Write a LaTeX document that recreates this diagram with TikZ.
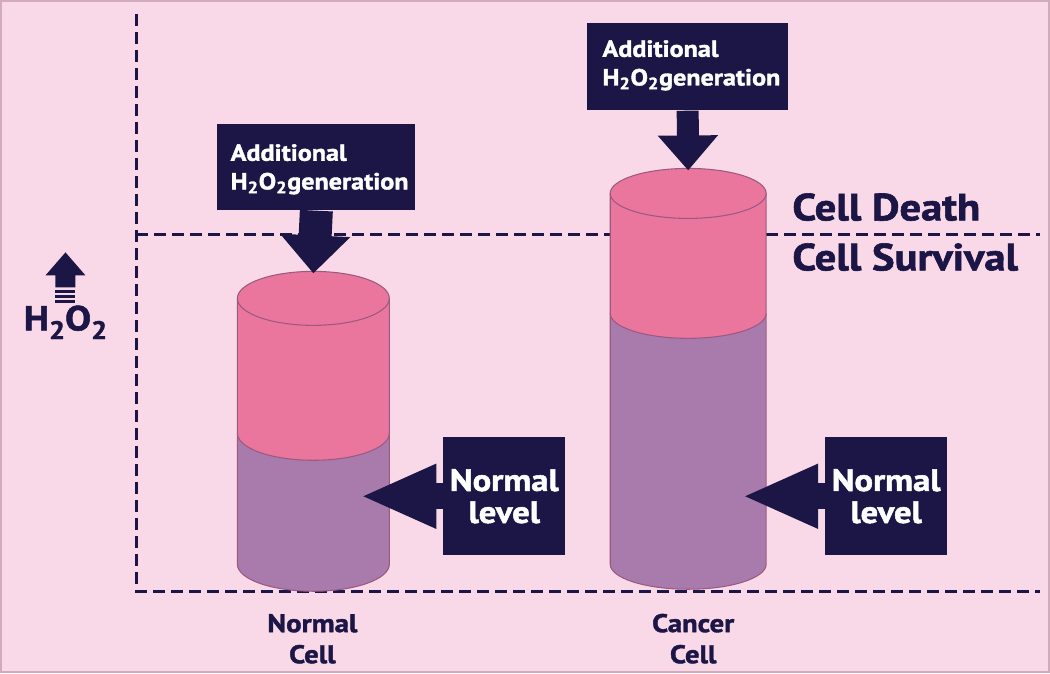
\documentclass[tikz,border=0pt]{standalone}
\usepackage{fontspec}
\setmainfont{PT Sans}[FakeStretch=1.12,BoldFeatures={FakeBold=1.6}]
\usetikzlibrary{arrows.meta,calc}
\definecolor{bg}{HTML}{F9D9E7}
\definecolor{navy}{HTML}{1C1646}
\definecolor{cpink}{HTML}{EA769E}
\definecolor{cpurp}{HTML}{A97BAC}
\definecolor{cedge}{HTML}{9A5A80}
\definecolor{framec}{HTML}{D2AABD}
\newcommand{\hoo}{H\textsubscript{2}O\textsubscript{2}}
\newcommand{\mycyl}[6]{%
  \fill[cpurp] (#1-#2,#4) rectangle (#1+#2,#5);
  \fill[cpurp] (#1,#5) ellipse[x radius=#2,y radius=#6];
  \fill[cpink] (#1-#2,#3) rectangle (#1+#2,#4);
  \fill[cpink] (#1,#4) ellipse[x radius=#2,y radius=#6];
  \draw[cyledge] (#1-#2,#3) -- (#1-#2,#5) arc[start angle=180,end angle=0,x radius=#2,y radius=#6] -- (#1+#2,#3);
  \draw[cyledge] (#1-#2,#4) arc[start angle=180,end angle=0,x radius=#2,y radius=#6];
  \draw[cyledge,fill=cpink] (#1,#3) ellipse[x radius=#2,y radius=#6];
}
\begin{document}
\begin{tikzpicture}[x=0.75pt,y=-0.75pt,
  cyledge/.style={draw=cedge,line width=0.8pt},
  axis/.style={navy,line width=2.3pt,dash pattern=on 9pt off 4.5pt},
  darkbox/.style={fill=navy,text=white,font=\bfseries,inner sep=0pt},
  addtext/.style={text=white,font=\fontsize{17.5}{21.5}\selectfont\bfseries,align=left,anchor=base west,inner sep=0pt},
  darrow/.style={navy,line width=#1*0.75pt},
  biglabel/.style={text=navy,font=\fontsize{28.5}{32}\selectfont\bfseries,anchor=base west,inner sep=0pt},
  celllabel/.style={text=navy,font=\fontsize{19.2}{23.3}\selectfont\bfseries,align=center,inner sep=0pt,anchor=base},
  leveltext/.style={align=center,font=\fontsize{23.2}{24}\selectfont\bfseries}
]
\fill[bg] (0,0) rectangle (1050,673);
\draw[framec,line width=1.5pt] (0.5,0.5) rectangle (1049,671.5);
\useasboundingbox (0,0) rectangle (1050,673);

% axes
\coordinate (ytop) at (136,14);
\coordinate (origin) at (136,591);
\coordinate (xend) at (1040,591);
\coordinate (thl) at (136,234);
\coordinate (thr) at (1040,234);
\draw[axis] (ytop) -- (origin) -- (xend);
\draw[axis] (thl) -- (thr);

% cylinders
\mycyl{313}{76}{298}{433}{564}{27}
\mycyl{688}{78}{193}{313}{564}{25}
\coordinate (ncTop) at (313,273);
\coordinate (ccTop) at (688,170);
\coordinate (ncSide) at (360,496);
\coordinate (ccSide) at (742,496);

% additional boxes
\node[darkbox,minimum width=198*0.75pt,minimum height=86*0.75pt] (addN) at (316,167) {};
\node[addtext] (addNt) at (230,189) {Additional\\\hoo generation};
\node[darkbox,minimum width=201*0.75pt,minimum height=87*0.75pt] (addC) at (687.5,66.5) {};
\node[addtext] (addCt) at (602,85) {Additional\\\hoo generation};
\draw[darrow=33,-{Triangle[length=38*0.75pt,width=68*0.75pt]}] (addN.south) -- (ncTop);
\draw[darrow=22,-{Triangle[length=35*0.75pt,width=58*0.75pt]}] (addC.south) -- (ccTop);

% normal level boxes
\node[darkbox,leveltext,minimum width=122*0.75pt,minimum height=118*0.75pt] (nlN) at (504,496) {Normal\\level};
\node[darkbox,leveltext,minimum width=122*0.75pt,minimum height=118*0.75pt] (nlC) at (886,496) {Normal\\level};
\draw[darrow=26,-{Triangle[length=76*0.75pt,width=59*0.75pt]}] (nlN.west) -- (ncSide);
\draw[darrow=26,-{Triangle[length=76*0.75pt,width=59*0.75pt]}] (nlC.west) -- (ccSide);

% threshold labels
\node[biglabel] (death) at (792,220) {Cell Death};
\node[biglabel] (surv) at (792,270) {Cell Survival};

% cell labels
\node[celllabel] (ncell) at (312,663) {Normal\\Cell};
\node[celllabel] (ccell) at (693,663) {Cancer\\Cell};

% y axis label
\node[text=navy,font=\fontsize{26}{28}\selectfont\bfseries,anchor=base west,inner sep=0pt] (hlab) at (23,330) {H\raisebox{-0.5ex}{\fontsize{19}{19}\selectfont 2}O\raisebox{-0.5ex}{\fontsize{19}{19}\selectfont 2}};
\fill[navy] (45,275) -- (65,252) -- (85,275) -- (75,275) -- (75,287) -- (55,287) -- (55,275) -- cycle;
\fill[navy] (55,290) rectangle (75,292.5);
\fill[navy] (55,295) rectangle (75,297.5);
\fill[navy] (55,300) rectangle (75,302.5);
\end{tikzpicture}
\end{document}
